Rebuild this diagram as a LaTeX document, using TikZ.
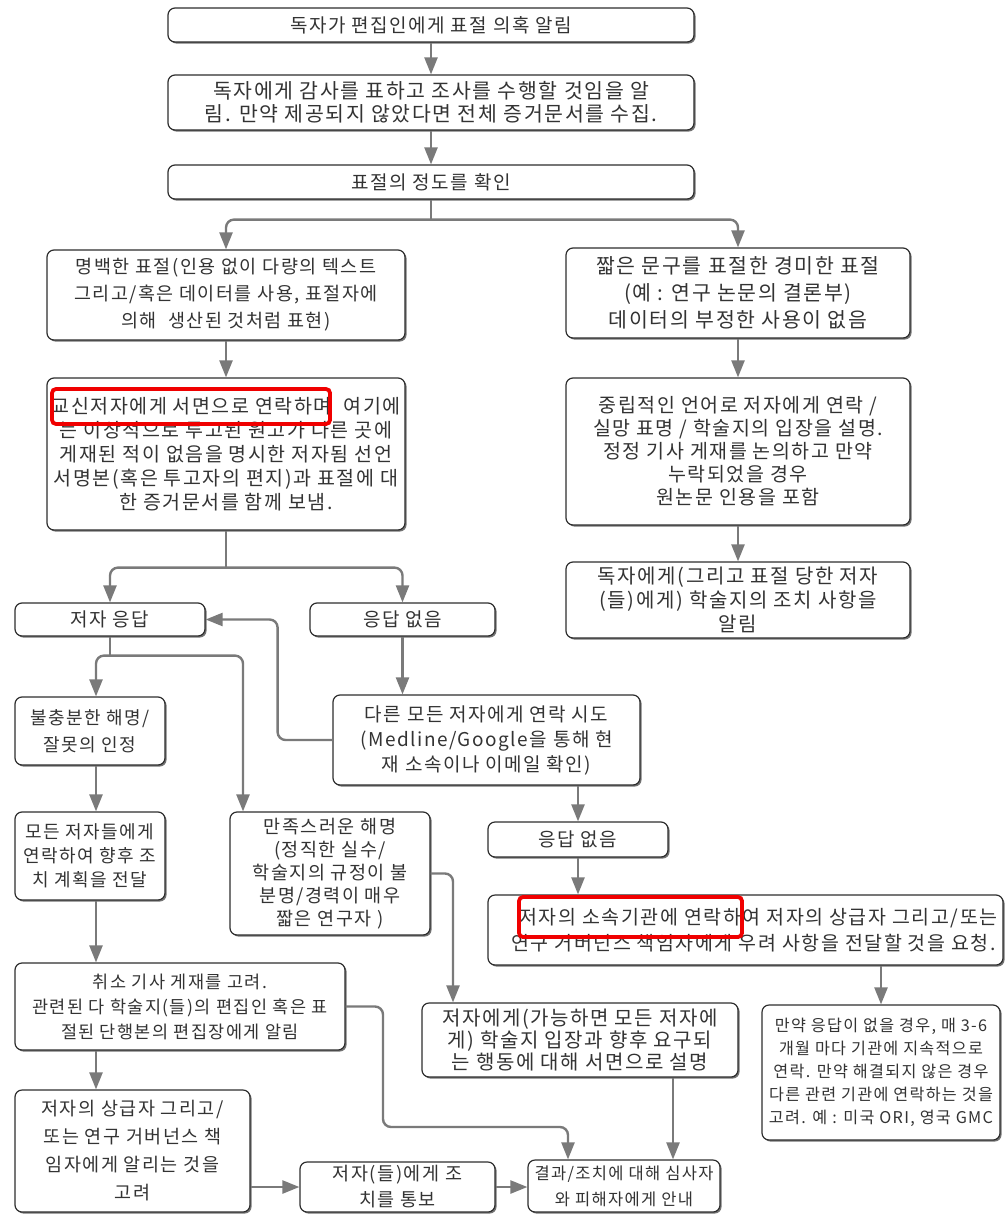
\documentclass[tikz,border=0pt]{standalone}
\usepackage{fontspec}
\newfontfamily\kr[LetterSpace=8]{Noto Sans CJK KR}
\usetikzlibrary{arrows.meta,shadows,calc}
\definecolor{argray}{HTML}{7A7A7A}
\definecolor{boxline}{HTML}{2E2E2E}
\definecolor{txt}{HTML}{333333}
\definecolor{markred}{HTML}{F00000}
\newcommand{\fs}[2]{\fontsize{#1}{#2}\selectfont}
\begin{document}
\begin{tikzpicture}[x=1pt,y=-1pt,
  box/.style={draw=boxline, line width=1.2pt, rounded corners=7pt, fill=white, align=center,
    inner sep=0pt, text=txt, font=\kr\fs{19}{23},
    drop shadow={shadow xshift=1.6pt, shadow yshift=-1.6pt, fill=black, opacity=0.55}},
  conn/.style={draw=argray, line width=2.4pt, rounded corners=8pt},
  arr/.style={conn, -{Triangle[width=13pt,length=17pt]}},
  redmark/.style={draw=markred, line width=3.8pt, rounded corners=4pt},
]
\useasboundingbox (0,0) rectangle (1006,1214);

\coordinate (colL) at (96,0);
\coordinate (colM) at (243,0);
\coordinate (colN) at (453,0);
\coordinate (colP) at (568,0);
\coordinate (colQ) at (673,0);

% top
\node[box, minimum width=526pt, minimum height=34pt] (B1) at (431,25) {독자가 편집인에게 표절 의혹 알림};
\node[box, minimum width=526pt, minimum height=55pt, font=\kr\fs{20.5}{23}] (B2) at (431,102.5)
  {독자에게 감사를 표하고 조사를 수행할 것임을 알\\림. 만약 제공되지 않았다면 전체 증거문서를 수집.};
\node[box, minimum width=526pt, minimum height=34pt] (B3) at (431,182) {표절의 정도를 확인};

% second tier
\node[box, minimum width=358pt, minimum height=90pt, font=\kr\fs{18.5}{27}] (B4) at (226,295)
  {명백한 표절(인용 없이 다량의 텍스트\\그리고/혹은 데이터를 사용, 표절자에\\의해 \ 생산된 것처럼 표현)};
\node[box, minimum width=344pt, minimum height=90pt, font=\kr\fs{20.5}{27}] (B5) at (738,293)
  {짧은 문구를 표절한 경미한 표절\\(예 : 연구 논문의 결론부)\\데이터의 부정한 사용이 없음};

\node[box, minimum width=358pt, minimum height=152pt, font=\kr\fs{19.5}{24}] (B6) at (226,454)
  {교신저자에게 서면으로 연락하며 \ 여기에\\는 이상적으로 투고된 원고가 다른 곳에\\게재된 적이 없음을 명시한 저자됨 선언\\서명본(혹은 투고자의 편지)과 표절에 대\\한 증거문서를 함께 보냄.};
\node[box, minimum width=344pt, minimum height=147pt, font=\kr\fs{19.5}{23}] (B7) at (738,451.5)
  {중립적인 언어로 저자에게 연락 /\\실망 표명 / 학술지의 입장을 설명.\\정정 기사 게재를 논의하고 만약\\누락되었을 경우\\원논문 인용을 포함};
\node[box, minimum width=344pt, minimum height=76pt, font=\kr\fs{20}{24}] (B8) at (738,600)
  {독자에게(그리고 표절 당한 저자\\(들)에게) 학술지의 조치 사항을\\알림};

% responses
\node[box, minimum width=190pt, minimum height=33pt] (B9) at (110,619.5) {저자 응답};
\node[box, minimum width=185pt, minimum height=33pt] (B10) at (402.5,619.5) {응답 없음};
\node[box, minimum width=307pt, minimum height=90pt, font=\kr\fs{19}{25}] (B11) at (486.5,740)
  {다른 모든 저자에게 연락 시도\\(Medline/Google을 통해 현\\재 소속이나 이메일 확인)};

\node[box, minimum width=150pt, minimum height=68pt, font=\kr\fs{18}{27}] (B12) at (90,731)
  {불충분한 해명/\\잘못의 인정};
\node[box, minimum width=150pt, minimum height=88pt, font=\kr\fs{18}{24}] (B14) at (90,856)
  {모든 저자들에게\\연락하여 향후 조\\치 계획을 전달};
\node[box, minimum width=200pt, minimum height=123pt, font=\kr\fs{18.5}{23}] (B13) at (330,873.5)
  {만족스러운 해명\\(정직한 실수/\\학술지의 규정이 불\\분명/경력이 매우\\짧은 연구자 )};
\node[box, minimum width=180pt, minimum height=35pt] (B17) at (578,839.5) {응답 없음};
\node[box, minimum width=515pt, minimum height=70pt, font=\kr\fs{19.5}{26}] (B18) at (745.5,930)
  {\hspace*{26pt}저자의 소속기관에 연락하여 저자의 상급자 그리고/또는\\\hspace*{16pt}연구 거버넌스 책임자에게 우려 사항을 전달할 것을 요청.};

\node[box, minimum width=330pt, minimum height=87pt, font=\kr\fs{17.5}{25}] (B15) at (180,1006.5)
  {취소 기사 게재를 고려.\\관련된 다 학술지(들)의 편집인 혹은 표\\절된 단행본의 편집장에게 알림};
\node[box, minimum width=316pt, minimum height=74pt, font=\kr\fs{20}{22}] (B16) at (580,1040)
  {저자에게(가능하면 모든 저자에\\게) 학술지 입장과 향후 요구되\\는 행동에 대해 서면으로 설명};
\node[box, minimum width=238pt, minimum height=135pt, font=\kr\fs{16.2}{23}] (B19) at (881,1072.5)
  {만약 응답이 없을 경우, 매 3-6\\개월 마다 기관에 지속적으로\\연락. 만약 해결되지 않은 경우\\다른 관련 기관에 연락하는 것을\\고려. 예 : 미국 ORI, 영국 GMC};

\node[box, minimum width=235pt, minimum height=122pt, font=\kr\fs{18.5}{28}] (B21) at (132.5,1151)
  {저자의 상급자 그리고/\\또는 연구 거버넌스 책\\임자에게 알리는 것을\\고려};
\node[box, minimum width=195pt, minimum height=50pt, font=\kr\fs{18.5}{26}] (B22) at (397.5,1187)
  {저자(들)에게 조\\치를 통보};
\node[box, minimum width=192pt, minimum height=52pt, font=\kr\fs{16.5}{26}] (B20) at (624,1186)
  {결과/조치에 대해 심사자\\와 피해자에게 안내};

% connectors
\draw[arr] (B1.south) -- (B2.north);
\draw[arr] (B2.south) -- (B3.north);
\coordinate (j1) at ($(B3.south)+(0,20)$);
\draw[conn] (B3.south) -- (j1);
\draw[arr] (j1) -| (B4.north);
\draw[arr] (j1) -| (B5.north);
\draw[arr] (B4.south) -- (B6.north);
\draw[arr] (B5.south) -- (B7.north);
\draw[arr] (B7.south) -- (B8.north);

\coordinate (j2) at ($(B6.south)+(0,37)$);
\draw[conn] (B6.south) -- (j2);
\draw[arr] (j2) -| (B9.north);
\draw[arr] (j2) -| (B10.north);
\draw[arr] (B10.south) -- (B10.south |- B11.north);
\draw[arr] (B11.west) -| ($(B9.east)+(72,0)$) -- (B9.east);

\coordinate (j3) at ($(B9.south)+(0,19)$);
\draw[conn] (B9.south) -- (j3);
\draw[arr] (j3) -| (B12.north -| colL);
\draw[arr] (j3) -| (B13.north -| colM);
\draw[arr] (B12.south -| colL) -- (B14.north -| colL);
\draw[arr] (B14.south -| colL) -- (B15.north -| colL);
\draw[arr] (B15.south -| colL) -- (B21.north -| colL);
\draw[arr] (B13.east) -| (B16.north -| colN);

\draw[arr] (B11.south -| B17.north) -- (B17.north);
\draw[arr] (B17.south) -- (B17.south |- B18.north);
\draw[arr] (B18.south -| B19.north) -- (B19.north);

\coordinate (k1) at (383,1127);
\draw[arr] (B15.east) -| (k1) -| (B20.north -| colP);
\draw[arr] (B16.south -| colQ) -- (B20.north -| colQ);
\draw[arr] (B21.east |- B22.west) -- (B22.west);
\draw[arr] (B22.east) -- (B20.west |- B22.east);

% red highlights
\draw[redmark] (52,389) rectangle (330,424);
\draw[redmark] (519,897) rectangle (742,937);
\end{tikzpicture}
\end{document}
